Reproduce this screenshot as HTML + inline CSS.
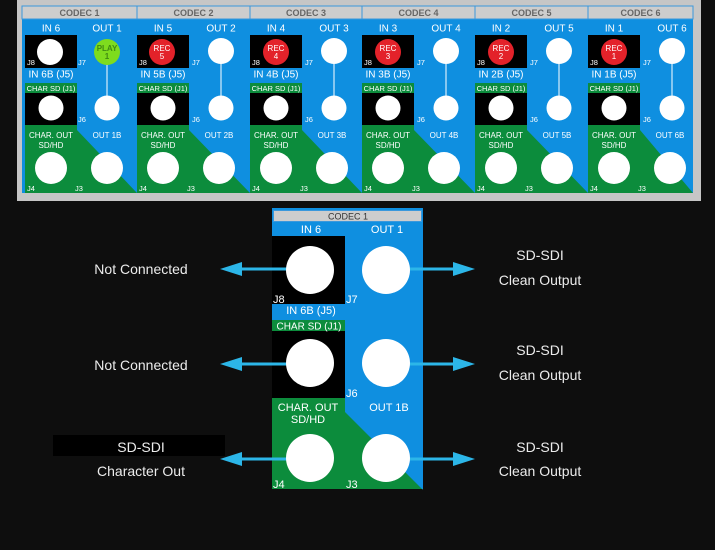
<!DOCTYPE html>
<html><head><meta charset="utf-8"><style>
html,body{margin:0;padding:0;background:#0e0e0e;}
svg{display:block;}
text{font-family:"Liberation Sans",Arial,sans-serif;}
.hd{fill:#cdcdcd;stroke:#3a98dc;stroke-width:1;}
.ht{font-size:9px;font-weight:bold;fill:#666;text-anchor:middle;}
.w10{font-size:10px;fill:#fff;text-anchor:middle;}
.w8{font-size:8px;fill:#fff;text-anchor:middle;}
.sd{font-size:7.5px;fill:#fff;text-anchor:middle;}
.j{font-size:7.5px;fill:#fff;}
.rec{font-size:8px;fill:#fff;text-anchor:middle;}
.play{font-size:8px;font-weight:bold;fill:#3f8a12;text-anchor:middle;}
.gr{fill:#0c8c3c;}
.L{font-size:11px;fill:#fff;text-anchor:middle;}
.Lj{font-size:11px;fill:#fff;}
.lbl{font-size:14px;fill:#ececec;text-anchor:middle;}
.arr{stroke:#2cb6e8;stroke-width:3;}
.ah{fill:#2cb6e8;}
</style></head><body>
<svg width="715" height="550" viewBox="0 0 715 550" xmlns="http://www.w3.org/2000/svg">
<rect x="0" y="0" width="715" height="550" fill="#0e0e0e"/>
<!-- top panel frame -->
<rect x="17" y="0" width="684" height="201" fill="#c6c6c6"/>
<rect x="22" y="19" width="671" height="174" fill="#0f8fe0"/>

<!-- CODEC 1 -->
<g transform="translate(25,0)">
<rect class="hd" x="-3" y="6" width="115" height="13"/>
<text class="ht" x="54.5" y="16">CODEC 1</text>
<polygon class="gr" points="0,125 52,125 52,130 112,193 0,193"/>
<rect x="0" y="35" width="52" height="33" fill="#000"/>
<rect class="gr" x="0" y="83" width="52" height="10"/>
<rect x="0" y="93" width="52" height="32" fill="#000"/>
<text class="w10" x="26" y="31.5">IN 6</text>
<text class="w10" x="82" y="31.5">OUT 1</text>
<line x1="82" y1="60" x2="82" y2="100" stroke="#fff"/>
<circle cx="82" cy="52" r="13" fill="#7edc1e"/>
<text class="play" x="82" y="51">PLAY</text><text class="play" x="82" y="59">1</text>
<circle cx="82" cy="108" r="12.5" fill="#fff"/>
<circle cx="25" cy="52" r="13" fill="#fff"/>
<text class="j" x="2" y="65">J8</text>
<text class="j" x="53" y="65">J7</text>
<text class="w10" x="26" y="77.5">IN 6B (J5)</text>
<text class="sd" x="26" y="91">CHAR SD (J1)</text>
<circle cx="26" cy="108" r="12.5" fill="#fff"/>
<text class="j" x="53" y="122">J6</text>
<text class="w8" x="26" y="138">CHAR. OUT</text>
<text class="w8" x="26" y="148">SD/HD</text>
<text class="w8" x="82" y="138">OUT 1B</text>
<circle cx="26" cy="168" r="16" fill="#fff"/>
<circle cx="82" cy="168" r="16" fill="#fff"/>
<text class="j" x="2" y="191">J4</text>
<text class="j" x="50" y="191">J3</text>
</g>

<!-- CODEC 2 -->
<g transform="translate(137,0)">
<rect class="hd" x="0" y="6" width="113" height="13"/>
<text class="ht" x="56.5" y="16">CODEC 2</text>
<polygon class="gr" points="0,125 52,125 52,130 113,193 0,193"/>
<rect x="0" y="35" width="52" height="33" fill="#000"/>
<rect class="gr" x="0" y="83" width="52" height="10"/>
<rect x="0" y="93" width="52" height="32" fill="#000"/>
<text class="w10" x="26" y="31.5">IN 5</text>
<text class="w10" x="84" y="31.5">OUT 2</text>
<line x1="84" y1="60" x2="84" y2="100" stroke="#fff"/>
<circle cx="84" cy="51" r="13" fill="#fff"/>
<circle cx="84" cy="108" r="12.5" fill="#fff"/>
<circle cx="25" cy="52" r="13" fill="#e3222a"/>
<text class="rec" x="25" y="51">REC</text><text class="rec" x="25" y="59">5</text>
<text class="j" x="2" y="65">J8</text>
<text class="j" x="55" y="65">J7</text>
<text class="w10" x="26" y="77.5">IN 5B (J5)</text>
<text class="sd" x="26" y="91">CHAR SD (J1)</text>
<circle cx="26" cy="108" r="12.5" fill="#fff"/>
<text class="j" x="55" y="122">J6</text>
<text class="w8" x="26" y="138">CHAR. OUT</text>
<text class="w8" x="26" y="148">SD/HD</text>
<text class="w8" x="82" y="138">OUT 2B</text>
<circle cx="26" cy="168" r="16" fill="#fff"/>
<circle cx="82" cy="168" r="16" fill="#fff"/>
<text class="j" x="2" y="191">J4</text>
<text class="j" x="50" y="191">J3</text>
</g>

<!-- CODEC 3 -->
<g transform="translate(250,0)">
<rect class="hd" x="0" y="6" width="112" height="13"/>
<text class="ht" x="56" y="16">CODEC 3</text>
<polygon class="gr" points="0,125 52,125 52,130 112,193 0,193"/>
<rect x="0" y="35" width="52" height="33" fill="#000"/>
<rect class="gr" x="0" y="83" width="52" height="10"/>
<rect x="0" y="93" width="52" height="32" fill="#000"/>
<text class="w10" x="26" y="31.5">IN 4</text>
<text class="w10" x="84" y="31.5">OUT 3</text>
<line x1="84" y1="60" x2="84" y2="100" stroke="#fff"/>
<circle cx="84" cy="51" r="13" fill="#fff"/>
<circle cx="84" cy="108" r="12.5" fill="#fff"/>
<circle cx="26" cy="52" r="13" fill="#e3222a"/>
<text class="rec" x="26" y="51">REC</text><text class="rec" x="26" y="59">4</text>
<text class="j" x="2" y="65">J8</text>
<text class="j" x="55" y="65">J7</text>
<text class="w10" x="26" y="77.5">IN 4B (J5)</text>
<text class="sd" x="26" y="91">CHAR SD (J1)</text>
<circle cx="26" cy="108" r="12.5" fill="#fff"/>
<text class="j" x="55" y="122">J6</text>
<text class="w8" x="26" y="138">CHAR. OUT</text>
<text class="w8" x="26" y="148">SD/HD</text>
<text class="w8" x="82" y="138">OUT 3B</text>
<circle cx="26" cy="168" r="16" fill="#fff"/>
<circle cx="82" cy="168" r="16" fill="#fff"/>
<text class="j" x="2" y="191">J4</text>
<text class="j" x="50" y="191">J3</text>
</g>

<!-- CODEC 4 -->
<g transform="translate(362,0)">
<rect class="hd" x="0" y="6" width="113" height="13"/>
<text class="ht" x="56.5" y="16">CODEC 4</text>
<polygon class="gr" points="0,125 52,125 52,130 113,193 0,193"/>
<rect x="0" y="35" width="52" height="33" fill="#000"/>
<rect class="gr" x="0" y="83" width="52" height="10"/>
<rect x="0" y="93" width="52" height="32" fill="#000"/>
<text class="w10" x="26" y="31.5">IN 3</text>
<text class="w10" x="84" y="31.5">OUT 4</text>
<line x1="84" y1="60" x2="84" y2="100" stroke="#fff"/>
<circle cx="84" cy="51" r="13" fill="#fff"/>
<circle cx="84" cy="108" r="12.5" fill="#fff"/>
<circle cx="26" cy="52" r="13" fill="#e3222a"/>
<text class="rec" x="26" y="51">REC</text><text class="rec" x="26" y="59">3</text>
<text class="j" x="2" y="65">J8</text>
<text class="j" x="55" y="65">J7</text>
<text class="w10" x="26" y="77.5">IN 3B (J5)</text>
<text class="sd" x="26" y="91">CHAR SD (J1)</text>
<circle cx="26" cy="108" r="12.5" fill="#fff"/>
<text class="j" x="55" y="122">J6</text>
<text class="w8" x="26" y="138">CHAR. OUT</text>
<text class="w8" x="26" y="148">SD/HD</text>
<text class="w8" x="82" y="138">OUT 4B</text>
<circle cx="26" cy="168" r="16" fill="#fff"/>
<circle cx="82" cy="168" r="16" fill="#fff"/>
<text class="j" x="2" y="191">J4</text>
<text class="j" x="50" y="191">J3</text>
</g>

<!-- CODEC 5 -->
<g transform="translate(475,0)">
<rect class="hd" x="0" y="6" width="113" height="13"/>
<text class="ht" x="56.5" y="16">CODEC 5</text>
<polygon class="gr" points="0,125 52,125 52,130 113,193 0,193"/>
<rect x="0" y="35" width="52" height="33" fill="#000"/>
<rect class="gr" x="0" y="83" width="52" height="10"/>
<rect x="0" y="93" width="52" height="32" fill="#000"/>
<text class="w10" x="26" y="31.5">IN 2</text>
<text class="w10" x="84" y="31.5">OUT 5</text>
<line x1="84" y1="60" x2="84" y2="100" stroke="#fff"/>
<circle cx="84" cy="51" r="13" fill="#fff"/>
<circle cx="84" cy="108" r="12.5" fill="#fff"/>
<circle cx="26" cy="52" r="13" fill="#e3222a"/>
<text class="rec" x="26" y="51">REC</text><text class="rec" x="26" y="59">2</text>
<text class="j" x="2" y="65">J8</text>
<text class="j" x="55" y="65">J7</text>
<text class="w10" x="26" y="77.5">IN 2B (J5)</text>
<text class="sd" x="26" y="91">CHAR SD (J1)</text>
<circle cx="26" cy="108" r="12.5" fill="#fff"/>
<text class="j" x="55" y="122">J6</text>
<text class="w8" x="26" y="138">CHAR. OUT</text>
<text class="w8" x="26" y="148">SD/HD</text>
<text class="w8" x="82" y="138">OUT 5B</text>
<circle cx="26" cy="168" r="16" fill="#fff"/>
<circle cx="82" cy="168" r="16" fill="#fff"/>
<text class="j" x="2" y="191">J4</text>
<text class="j" x="50" y="191">J3</text>
</g>

<!-- CODEC 6 -->
<g transform="translate(588,0)">
<rect class="hd" x="0" y="6" width="105" height="13"/>
<text class="ht" x="52.5" y="16">CODEC 6</text>
<polygon class="gr" points="0,125 52,125 52,130 105,193 0,193"/>
<rect x="0" y="35" width="52" height="33" fill="#000"/>
<rect class="gr" x="0" y="83" width="52" height="10"/>
<rect x="0" y="93" width="52" height="32" fill="#000"/>
<text class="w10" x="26" y="31.5">IN 1</text>
<text class="w10" x="84" y="31.5">OUT 6</text>
<line x1="84" y1="60" x2="84" y2="100" stroke="#fff"/>
<circle cx="84" cy="51" r="13" fill="#fff"/>
<circle cx="84" cy="108" r="12.5" fill="#fff"/>
<circle cx="26" cy="52" r="13" fill="#e3222a"/>
<text class="rec" x="26" y="51">REC</text><text class="rec" x="26" y="59">1</text>
<text class="j" x="2" y="65">J8</text>
<text class="j" x="55" y="65">J7</text>
<text class="w10" x="26" y="77.5">IN 1B (J5)</text>
<text class="sd" x="26" y="91">CHAR SD (J1)</text>
<circle cx="26" cy="108" r="12.5" fill="#fff"/>
<text class="j" x="55" y="122">J6</text>
<text class="w8" x="26" y="138">CHAR. OUT</text>
<text class="w8" x="26" y="148">SD/HD</text>
<text class="w8" x="82" y="138">OUT 6B</text>
<circle cx="26" cy="168" r="16" fill="#fff"/>
<circle cx="82" cy="168" r="16" fill="#fff"/>
<text class="j" x="2" y="191">J4</text>
<text class="j" x="50" y="191">J3</text>
</g>

<!-- Enlarged CODEC 1 -->
<rect x="272" y="208" width="151" height="281" fill="#0f8fe0"/>
<rect class="hd" x="273.5" y="210.5" width="148" height="11"/>
<text x="348" y="219.5" style="font-size:9px;fill:#333;text-anchor:middle;">CODEC 1</text>
<polygon class="gr" points="272,398 345,398 345,412 423,490 423,489 272,489"/>
<rect x="272" y="236" width="73" height="68" fill="#000"/>
<rect class="gr" x="272" y="320" width="73" height="11"/>
<rect x="272" y="331" width="73" height="67" fill="#000"/>
<text class="L" x="311" y="233">IN 6</text>
<text class="L" x="387" y="233">OUT 1</text>
<text class="Lj" x="273" y="303">J8</text>
<text class="Lj" x="346" y="303">J7</text>
<text class="L" x="311" y="314">IN 6B (J5)</text>
<text x="309" y="329.5" style="font-size:10px;fill:#fff;text-anchor:middle;">CHAR SD (J1)</text>
<text class="Lj" x="346" y="397">J6</text>
<text class="L" x="308" y="411">CHAR. OUT</text>
<text class="L" x="308" y="423">SD/HD</text>
<text class="L" x="389" y="411">OUT 1B</text>
<text class="Lj" x="273" y="488">J4</text>
<text class="Lj" x="346" y="488">J3</text>

<!-- arrows -->
<line class="arr" x1="240" y1="269" x2="300" y2="269"/>
<polygon class="ah" points="220,269 242,262 242,276"/>
<line class="arr" x1="240" y1="364" x2="300" y2="364"/>
<polygon class="ah" points="220,364 242,357 242,371"/>
<line class="arr" x1="240" y1="459" x2="300" y2="459"/>
<polygon class="ah" points="220,459 242,452 242,466"/>
<line class="arr" x1="396" y1="269" x2="455" y2="269"/>
<polygon class="ah" points="475,269 453,262 453,276"/>
<line class="arr" x1="396" y1="364" x2="455" y2="364"/>
<polygon class="ah" points="475,364 453,357 453,371"/>
<line class="arr" x1="396" y1="459" x2="455" y2="459"/>
<polygon class="ah" points="475,459 453,452 453,466"/>

<!-- connector circles -->
<circle cx="310" cy="270" r="24" fill="#fff"/>
<circle cx="386" cy="270" r="24" fill="#fff"/>
<circle cx="310" cy="363" r="24" fill="#fff"/>
<circle cx="386" cy="363" r="24" fill="#fff"/>
<circle cx="310" cy="458" r="24" fill="#fff"/>
<circle cx="386" cy="458" r="24" fill="#fff"/>

<!-- labels -->
<text class="lbl" x="141" y="274">Not Connected</text>
<text class="lbl" x="141" y="370">Not Connected</text>
<rect x="53" y="435" width="172" height="21" fill="#000"/>
<text class="lbl" x="141" y="452">SD-SDI</text>
<text class="lbl" x="141" y="476">Character Out</text>
<text class="lbl" x="540" y="260">SD-SDI</text>
<text class="lbl" x="540" y="285">Clean Output</text>
<text class="lbl" x="540" y="355">SD-SDI</text>
<text class="lbl" x="540" y="380">Clean Output</text>
<text class="lbl" x="540" y="452">SD-SDI</text>
<text class="lbl" x="540" y="476">Clean Output</text>
</svg>
</body></html>
